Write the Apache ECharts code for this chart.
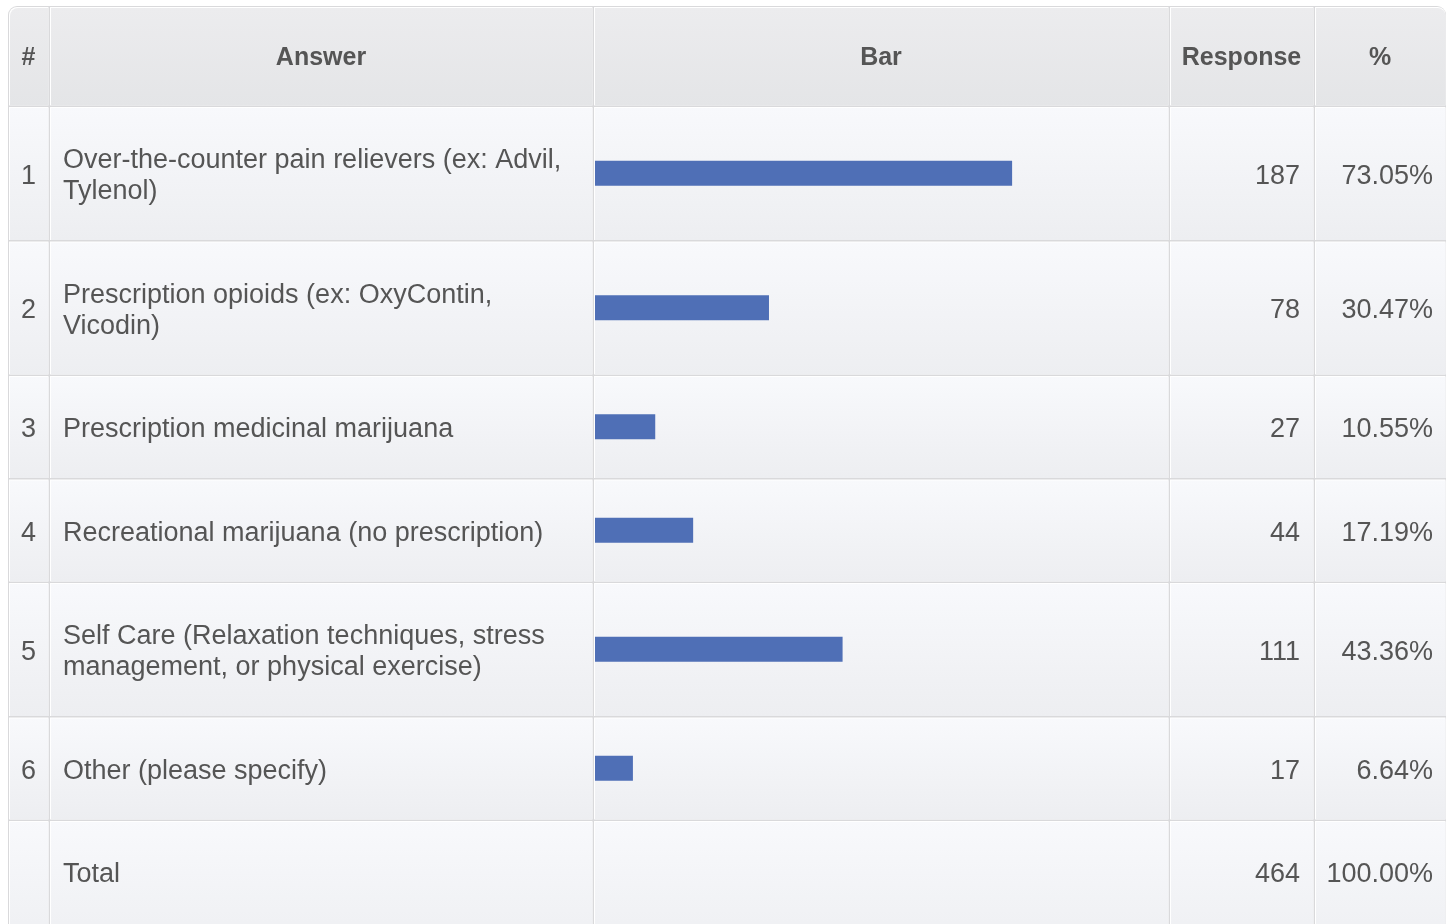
<!DOCTYPE html>
<html><head><meta charset="utf-8">
<script src="https://cdn.jsdelivr.net/npm/echarts@6/dist/echarts.min.js"></script>
<style>html,body{margin:0;padding:0;background:#fff;}#c{width:1454px;height:924px;}</style>
</head><body><div id="c"></div>
<script>
// ---- data ----
const headers = ['#', 'Answer', 'Bar', 'Response', '%'];
const ids = ['1', '2', '3', '4', '5', '6'];
const answers = [
  'Over-the-counter pain relievers (ex: Advil,\nTylenol)',
  'Prescription opioids (ex: OxyContin,\nVicodin)',
  'Prescription medicinal marijuana',
  'Recreational marijuana (no prescription)',
  'Self Care (Relaxation techniques, stress\nmanagement, or physical exercise)',
  'Other (please specify)'
];
const responses = [187, 78, 27, 44, 111, 17];
const percents = [73.05, 30.47, 10.55, 17.19, 43.36, 6.64];
const totalLabel = 'Total';
const totalResponses = 464;
const totalPercent = '100.00%';

// ---- layout ----
const colEdges = [8, 49, 593, 1169, 1314, 1446];
const tableTop = 6, headerH = 100, lineRowH = 103.5, extraLineH = 31;
const font = '"Liberation Sans", Arial, Helvetica, sans-serif';
const txt = '#555555';

const rowTops = [], rowHs = [];
let y = tableTop + headerH;
answers.forEach(a => {
  const lines = a.split('\n').length;
  const h = lineRowH + (lines - 1) * extraLineH;
  rowTops.push(y); rowHs.push(h); y += h;
});
const totalTop = y, totalH = 140;

function grad(top, bottom) {
  return new echarts.graphic.LinearGradient(0, 0, 0, 1, [{offset: 0, color: top}, {offset: 1, color: bottom}]);
}
const g = [];
g.push({type: 'rect', z: -10, shape: {x: colEdges[0], y: tableTop, width: colEdges[5] - colEdges[0], height: 1000, r: [9, 9, 0, 0]}, style: {fill: '#d9d9db'}});
function cell(x0, x1, y0, y1, top, bottom, r) {
  g.push({type: 'rect', z: -9, shape: {x: x0 + 1, y: y0 + 1, width: x1 - x0 - 1.5, height: y1 - y0 - 1.5, r: r || 0}, style: {fill: '#ffffff'}});
  g.push({type: 'rect', z: -8, shape: {x: x0 + 2, y: y0 + 2, width: x1 - x0 - 2.5, height: y1 - y0 - 2.5, r: r || 0}, style: {fill: grad(top, bottom)}});
}
for (let c = 0; c < 5; c++) {
  let r = 0;
  if (c === 0) r = [8, 0, 0, 0];
  if (c === 4) r = [0, 8, 0, 0];
  cell(colEdges[c], colEdges[c + 1], tableTop, tableTop + headerH, '#ececee', '#e4e5e7', r);
  const cx = (colEdges[c] + colEdges[c + 1]) / 2;
  g.push({type: 'text', z: 5, style: {text: headers[c], x: cx, y: tableTop + headerH / 2 + 2, align: 'center', verticalAlign: 'middle', font: 'bold 25px ' + font, fill: txt}});
}
const rowsAll = ids.map((id, i) => ({id, label: answers[i], resp: String(responses[i]), pct: percents[i].toFixed(2) + '%', top: rowTops[i], h: rowHs[i]}));
rowsAll.push({id: '', label: totalLabel, resp: String(totalResponses), pct: totalPercent, top: totalTop, h: totalH, mid: totalTop + 103.5 / 2 + 3});
rowsAll.forEach(row => {
  for (let c = 0; c < 5; c++) cell(colEdges[c], colEdges[c + 1], row.top, row.top + row.h, '#f8f9fc', '#edeef1');
  const cy = row.mid || (row.top + row.h / 2 + 3);
  const st = {font: '27px ' + font, fill: txt, verticalAlign: 'middle', lineHeight: 31};
  g.push({type: 'text', z: 5, style: Object.assign({}, st, {text: row.id, x: (colEdges[0] + colEdges[1]) / 2, y: cy, align: 'center'})});
  g.push({type: 'text', z: 5, style: Object.assign({}, st, {text: row.label, x: colEdges[1] + 14, y: cy, align: 'left'})});
  g.push({type: 'text', z: 5, style: Object.assign({}, st, {text: row.resp, x: colEdges[4] - 14, y: cy, align: 'right'})});
  g.push({type: 'text', z: 5, style: Object.assign({}, st, {text: row.pct, x: colEdges[5] - 13, y: cy, align: 'right'})});
});

const grids = [], xAxes = [], yAxes = [], series = [];
percents.forEach((p, i) => {
  grids.push({left: 595, width: 571, top: rowTops[i], height: rowHs[i]});
  xAxes.push({type: 'value', gridIndex: i, min: 0, max: 100, show: false});
  yAxes.push({type: 'category', gridIndex: i, data: [answers[i]], show: false});
  series.push({type: 'bar', xAxisIndex: i, yAxisIndex: i, data: [p], barWidth: 25, z: 10, itemStyle: {color: '#4f6fb6'}, silent: true});
});

const chart = echarts.init(document.getElementById('c'), null, {renderer: 'canvas'});
chart.setOption({
  animation: false,
  backgroundColor: '#ffffff',
  graphic: {elements: g},
  grid: grids, xAxis: xAxes, yAxis: yAxes, series: series
});
</script></body></html>
